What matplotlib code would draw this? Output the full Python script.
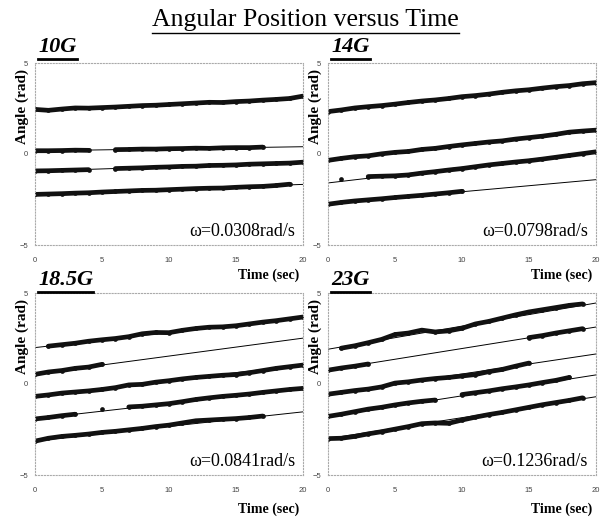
import numpy as np
import matplotlib.pyplot as plt
from matplotlib.lines import Line2D

plt.rcParams['font.family'] = ['Liberation Serif', 'DejaVu Serif']

nan = np.nan

t_sec = list(range(21))
fit_t = [0, 20]

panel_names = ["10G", "14G", "18.5G", "23G"]
omega_labels = ["ω=0.0308rad/s", "ω=0.0798rad/s", "ω=0.0841rad/s", "ω=0.1236rad/s"]

# fitted lines: angle at t=0 and at t=20
fit_start_10g = [2.43, 0.17, -0.94, -2.20]
fit_end_10g = [3.10, 0.40, -0.46, -1.67]
fit_start_14g = [2.35, -0.33, -1.59, -2.74]
fit_end_14g = [3.93, 1.30, 0.13, -1.41]
fit_start_185g = [2.00, 0.55, -0.66, -1.91, -3.13]
fit_end_185g = [3.66, 2.52, 1.05, -0.24, -1.53]
fit_start_23g = [1.91, 0.77, -0.55, -1.80, -3.00]
fit_end_23g = [4.45, 3.13, 1.65, 0.50, -0.70]

# measured angle (rad), one value per second, nan where no data shows
data_10g = [
    [2.45, 2.40, 2.47, 2.53, 2.52, 2.55, 2.58, 2.62, 2.66, 2.68, 2.72,
     2.76, 2.80, 2.84, 2.83, 2.88, 2.91, 2.96, 3.00, 3.05, 3.18],
    [0.18, 0.18, 0.19, 0.21, 0.20, nan, 0.24, 0.25, 0.27, 0.27, 0.29,
     0.30, 0.32, 0.31, 0.34, 0.35, 0.35, 0.38, nan, nan, nan],
    [-0.93, -0.92, -0.90, -0.88, -0.86, nan, -0.80, -0.78, -0.76, -0.73, -0.71,
     -0.68, -0.67, -0.63, -0.62, -0.60, -0.56, -0.54, -0.52, -0.50, -0.45],
    [-2.22, -2.20, -2.18, -2.15, -2.13, -2.09, -2.06, -2.03, -2.00, -1.99, -1.96,
     -1.93, -1.90, -1.88, -1.87, -1.83, -1.80, -1.78, -1.73, -1.66, nan],
]
data_14g = [
    [2.33, 2.42, 2.53, 2.60, 2.66, 2.74, 2.83, 2.91, 2.97, 3.05, 3.15,
     3.21, 3.29, 3.39, 3.47, 3.53, 3.62, 3.70, 3.76, 3.86, 3.92],
    [-0.35, -0.24, -0.15, -0.10, 0.01, 0.09, 0.14, 0.25, 0.31, 0.41, 0.50,
     0.58, 0.66, 0.72, 0.82, 0.90, 0.98, 1.08, 1.20, 1.26, 1.31],
    [nan, -1.36, nan, -1.24, -1.22, -1.20, -1.15, -1.05, -0.97, -0.88, -0.80,
     -0.70, -0.60, -0.52, -0.44, -0.37, -0.28, -0.18, -0.08, 0.02, 0.12],
    [-2.76, -2.66, -2.58, -2.52, -2.46, -2.39, -2.33, -2.27, -2.20, -2.13, -2.05,
     nan, nan, nan, nan, nan, nan, nan, nan, nan, nan],
]
data_185g = [
    [nan, 2.08, 2.16, 2.24, 2.35, 2.43, 2.50, 2.60, 2.76, 2.83, 2.82,
     2.95, 3.05, 3.12, 3.14, 3.20, 3.30, 3.40, 3.48, 3.58, 3.68],
    [0.53, 0.66, 0.74, 0.86, 0.93, 1.08, nan, nan, nan, nan, nan,
     nan, nan, nan, nan, nan, nan, nan, nan, nan, nan],
    [-0.68, -0.60, -0.50, -0.44, -0.38, -0.30, -0.20, -0.05, -0.02, 0.10, 0.18,
     0.28, 0.36, 0.42, 0.48, 0.52, 0.62, 0.74, 0.86, 0.95, 1.04],
    [-1.92, -1.84, -1.74, -1.66, nan, -1.40, nan, -1.26, -1.22, -1.15, -1.08,
     -0.97, -0.85, -0.76, -0.68, -0.62, -0.55, -0.46, -0.38, -0.30, -0.24],
    [-3.14, -2.98, -2.88, -2.82, -2.75, -2.66, -2.60, -2.52, -2.44, -2.34, -2.26,
     -2.14, -2.02, -1.98, -1.94, -1.90, -1.84, -1.76, nan, nan, nan],
]
data_23g = [
    [nan, 1.97, 2.10, 2.27, 2.45, 2.72, 2.80, 2.96, 2.86, 2.92, 3.06,
     3.30, 3.44, 3.62, 3.80, 3.96, 4.08, 4.20, 4.32, 4.40, nan],
    [0.76, 0.88, 0.98, 1.10, nan, nan, nan, nan, nan, nan, nan,
     nan, nan, nan, nan, 2.55, 2.66, 2.80, 2.92, 3.04, nan],
    [-0.56, -0.46, -0.36, -0.28, -0.16, 0.05, 0.12, 0.22, 0.30, 0.36, 0.44,
     0.52, 0.68, 0.80, 0.98, 1.15, nan, nan, nan, nan, nan],
    [-1.78, -1.66, -1.52, -1.38, -1.28, -1.15, -1.04, -0.95, -0.88, nan, -0.58,
     -0.48, -0.38, -0.26, -0.16, -0.05, 0.08, 0.20, 0.36, nan, nan],
    [-3.00, -2.98, -2.88, -2.74, -2.62, -2.48, -2.34, -2.18, -2.14, -2.16, -1.98,
     -1.82, -1.68, -1.56, -1.42, -1.28, -1.14, -1.02, -0.90, -0.76, nan],
]

x_ticks = [0, 5, 10, 15, 20]
y_ticks = [-5, 0, 5]


def underline(fig, txt, renderer, lw):
    bb = txt.get_window_extent(renderer)
    W, H = fig.bbox.width, fig.bbox.height
    y = (bb.y0 - 2) / H
    fig.add_artist(Line2D([bb.x0 / W, bb.x1 / W], [y, y],
                          color="black", lw=lw, transform=fig.transFigure))


def draw_panel(ax, fit_start, fit_end, data):
    for a, b in zip(fit_start, fit_end):
        ax.plot(fit_t, [a, b], color="black", lw=0.7)
    for ys in data:
        ax.plot(t_sec, ys, color="#111111", lw=3.4, solid_capstyle="round",
                solid_joinstyle="round", marker="o", ms=3.4, mew=0)

    ax.set_xlim(0, 20)
    ax.set_ylim(-5, 5)
    ax.set_xticks(x_ticks)
    ax.set_yticks(y_ticks)
    ax.tick_params(length=0, labelsize=5.5, labelcolor="#444")
    ax.tick_params(axis="x", pad=9)
    ax.tick_params(axis="y", pad=5)
    for lab in ax.get_xticklabels() + ax.get_yticklabels():
        lab.set_family("Liberation Sans")
    for sp in ax.spines.values():
        sp.set_linestyle(":")
        sp.set_color("#aaaaaa")
        sp.set_linewidth(0.8)


fig = plt.figure(figsize=(6.11, 5.21), dpi=100)

positions = [
    [35 / 611, 1 - 245 / 521, 268 / 611, 182 / 521],
    [328 / 611, 1 - 245 / 521, 268 / 611, 182 / 521],
    [35 / 611, 1 - 475 / 521, 268 / 611, 182 / 521],
    [328 / 611, 1 - 475 / 521, 268 / 611, 182 / 521],
]
fits = [(fit_start_10g, fit_end_10g), (fit_start_14g, fit_end_14g),
        (fit_start_185g, fit_end_185g), (fit_start_23g, fit_end_23g)]
datas = [data_10g, data_14g, data_185g, data_23g]

name_texts = []
for i in range(4):
    ax = fig.add_axes(positions[i])
    draw_panel(ax, fits[i][0], fits[i][1], datas[i])

    ax.text(-0.047, 0.965, "Angle (rad)", transform=ax.transAxes, rotation=90,
            ha="center", va="top", fontsize=11, fontweight="bold")
    ax.text(0.985, -0.13 if i < 2 else -0.15, "Time (sec)", transform=ax.transAxes,
            ha="right", va="top", fontsize=10, fontweight="bold")
    ax.text(0.97, 0.05, omega_labels[i], transform=ax.transAxes,
            ha="right", va="baseline", fontsize=13)
    nt = ax.text(0.012, 1.06 if i < 2 else 1.045, panel_names[i],
                 transform=ax.transAxes, ha="left", va="baseline",
                 fontsize=16, fontweight="bold", fontstyle="italic")
    name_texts.append(nt)

title = fig.text(0.5, 1 - 26 / 521, "Angular Position versus Time",
                 ha="center", va="baseline", fontsize=18.5)

fig.canvas.draw()
renderer = fig.canvas.get_renderer()
underline(fig, title, renderer, 1.0)
for nt in name_texts:
    underline(fig, nt, renderer, 2.0)

fig.savefig("out.png", dpi=100)
